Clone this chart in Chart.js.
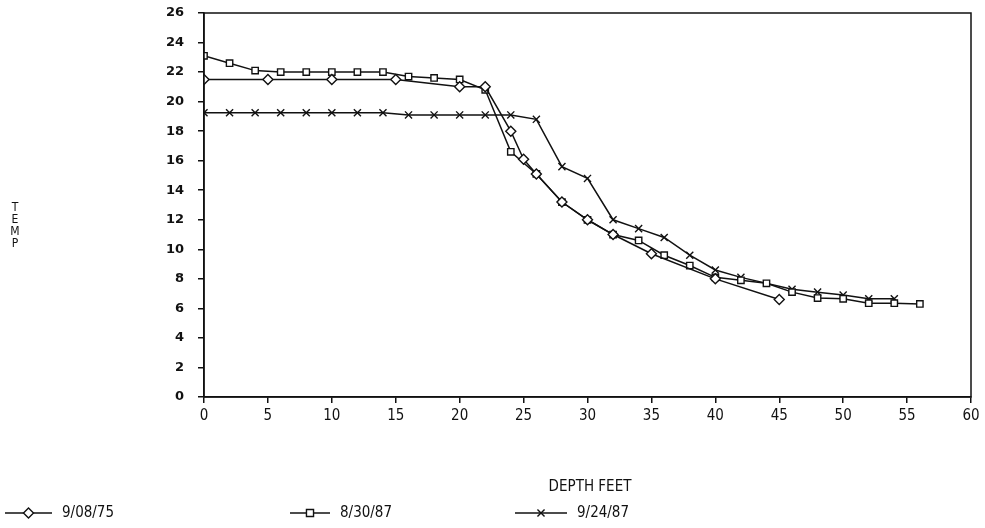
<!DOCTYPE html>
<html>
<head>
<meta charset="utf-8">
<script src="https://cdn.jsdelivr.net/npm/chart.js@4.4.1/dist/chart.umd.min.js"></script>
<style>
  html, body { margin: 0; padding: 0; background: #fff; }
  #wrap { width: 985px; height: 528px; }
</style>
</head>
<body>
<div id="wrap"><canvas id="c" width="985" height="528"></canvas></div>
<script>
// Series 1: 9/08/75 (diamonds)
const depth75 = [0, 5, 10, 15, 20, 22, 24, 25, 26, 28, 30, 32, 35, 40, 45];
const temp75  = [21.5, 21.5, 21.5, 21.5, 21.0, 21.0, 18.0, 16.1, 15.1, 13.2, 12.0, 11.0, 9.7, 8.0, 6.6];

// Series 2: 8/30/87 (squares)
const depth8730 = [0, 2, 4, 6, 8, 10, 12, 14, 16, 18, 20, 22, 24, 26, 28, 30, 32, 34, 36, 38, 40, 42, 44, 46, 48, 50, 52, 54, 56];
const temp8730  = [23.1, 22.6, 22.1, 22.0, 22.0, 22.0, 22.0, 22.0, 21.7, 21.6, 21.5, 20.8, 16.6, 15.1, 13.2, 12.0, 11.0, 10.6, 9.6, 8.9, 8.1, 7.9, 7.7, 7.1, 6.7, 6.65, 6.35, 6.35, 6.3];

// Series 3: 9/24/87 (crosses)
const depth9247 = [0, 2, 4, 6, 8, 10, 12, 14, 16, 18, 20, 22, 24, 26, 28, 30, 32, 34, 36, 38, 40, 42, 46, 48, 50, 52, 54];
const temp9247  = [19.25, 19.25, 19.25, 19.25, 19.25, 19.25, 19.25, 19.25, 19.1, 19.1, 19.1, 19.1, 19.1, 18.8, 15.6, 14.8, 12.0, 11.4, 10.8, 9.6, 8.6, 8.1, 7.3, 7.1, 6.9, 6.65, 6.65];

const seriesLabels = ['9/08/75', '8/30/87', '9/24/87'];
const seriesStyles = ['rectRot', 'rect', 'crossRot'];
const xTitle = 'DEPTH FEET';
const yTitle = 'TEMP';

function pts(xs, ys) { return xs.map((x, i) => ({ x: x, y: ys[i] })); }

const INK = '#111';
const NARROW = '"Liberation Sans Narrow", "DejaVu Sans Condensed", "Roboto Condensed", sans-serif';

function ds(label, data, style) {
  return {
    label: label,
    data: data,
    borderColor: INK,
    borderWidth: 1.5,
    pointStyle: style,
    pointRadius: style === 'rect' ? 4.5 : 5,
    pointBorderWidth: 1.4,
    pointBackgroundColor: '#fff',
    pointBorderColor: INK,
    tension: 0,
    fill: false
  };
}

const decor = {
  id: 'decor',
  afterDraw(chart) {
    const ctx = chart.ctx;
    const a = chart.chartArea;
    ctx.save();
    ctx.strokeStyle = INK;
    ctx.lineWidth = 1.5;
    ctx.strokeRect(a.left, a.top, a.right - a.left, a.bottom - a.top);

    // Y title stacked letters
    ctx.fillStyle = INK;
    ctx.font = '12px ' + NARROW;
    ctx.textAlign = 'center';
    ctx.textBaseline = 'middle';
    const letters = yTitle.split('');
    letters.forEach((ch, i) => ctx.fillText(ch, 15, 208 + i * 12));

    // X title
    ctx.font = '15px ' + NARROW;
    ctx.fillText(xTitle, 590, 487);

    // Legend
    const items = [
      { lx: 5, tx: 62 },
      { lx: 290, tx: 340 },
      { lx: 515, tx: 577 }
    ];
    const ly = 513;
    chart.data.datasets.forEach((d, i) => {
      const it = items[i];
      const lineEnd = it.tx - 10;
      ctx.strokeStyle = INK;
      ctx.lineWidth = 1.5;
      ctx.beginPath();
      ctx.moveTo(it.lx, ly);
      ctx.lineTo(lineEnd, ly);
      ctx.stroke();
      ctx.fillStyle = '#fff';
      ctx.strokeStyle = INK;
      ctx.lineWidth = 1.4;
      Chart.helpers.drawPoint(ctx, {
        pointStyle: d.pointStyle,
        radius: 5,
        borderWidth: 1.4
      }, (it.lx + lineEnd) / 2, ly);
      ctx.fillStyle = INK;
      ctx.textAlign = 'left';
      ctx.font = '15px ' + NARROW;
      ctx.fillText(d.label, it.tx, ly);
    });
    ctx.restore();
  }
};

new Chart(document.getElementById('c'), {
  type: 'line',
  data: {
    datasets: [
      ds(seriesLabels[0], pts(depth75, temp75), seriesStyles[0]),
      ds(seriesLabels[1], pts(depth8730, temp8730), seriesStyles[1]),
      ds(seriesLabels[2], pts(depth9247, temp9247), seriesStyles[2])
    ]
  },
  options: {
    responsive: false,
    animation: false,
    devicePixelRatio: 1,
    layout: { padding: { left: 0, top: 13, right: 14, bottom: 0 } },
    plugins: {
      legend: { display: false },
      tooltip: { enabled: false },
      title: { display: false }
    },
    scales: {
      x: {
        type: 'linear',
        min: 0,
        max: 60,
        afterFit(s) { s.height = 131; s.paddingLeft = 0; s.paddingRight = 0; },
        ticks: {
          stepSize: 5,
          color: INK,
          padding: 4,
          maxRotation: 0,
          font: { family: NARROW, size: 15 }
        },
        grid: { drawOnChartArea: false, drawTicks: true, tickLength: 6, color: INK, lineWidth: 1.5 },
        border: { display: true, color: INK, width: 1.5 }
      },
      y: {
        type: 'linear',
        min: 0,
        max: 26,
        afterFit(s) { s.width = 204; s.paddingTop = 0; s.paddingBottom = 0; },
        ticks: {
          stepSize: 2,
          color: INK,
          padding: 14,
          font: { family: '"DejaVu Sans", sans-serif', size: 13, weight: 'bold' }
        },
        grid: { drawOnChartArea: false, drawTicks: true, tickLength: 6, color: INK, lineWidth: 1.5 },
        border: { display: true, color: INK, width: 1.5 }
      }
    }
  },
  plugins: [decor]
});
</script>
</body>
</html>
